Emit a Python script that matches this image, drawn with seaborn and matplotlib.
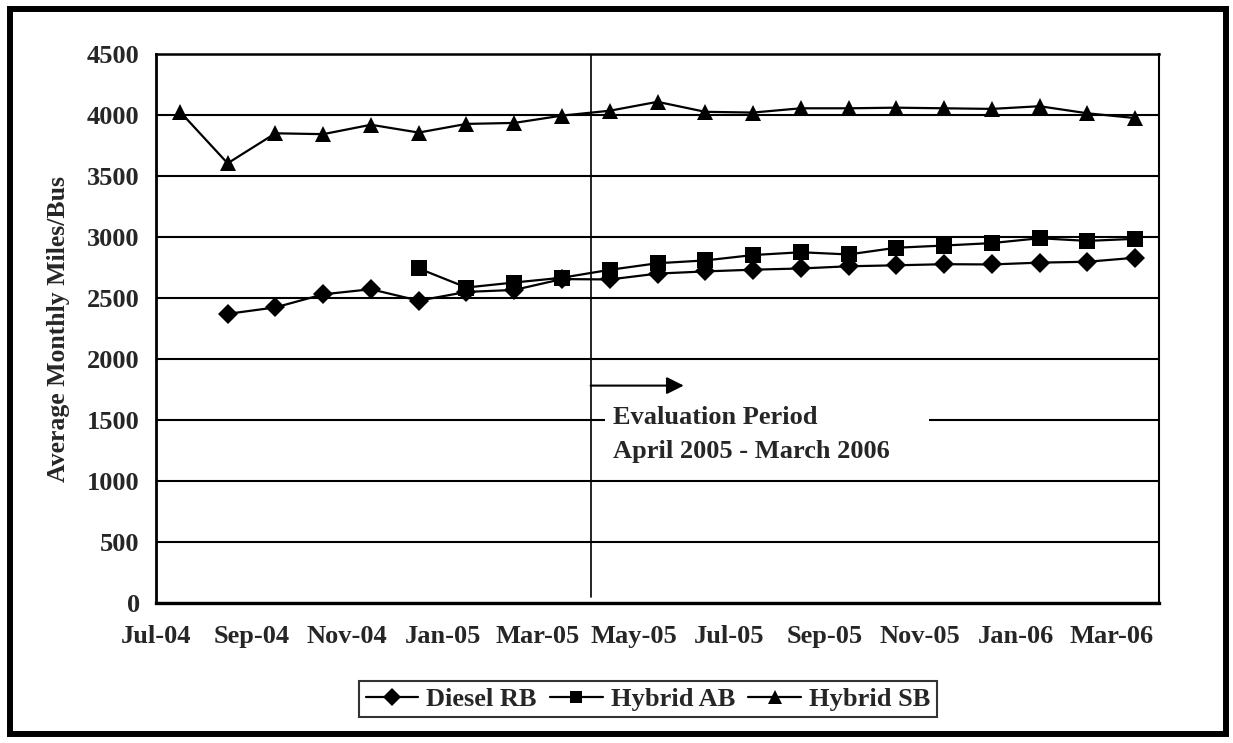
import numpy as np
import pandas as pd
import seaborn as sns
import matplotlib.pyplot as plt
from matplotlib.patches import Rectangle
from matplotlib.lines import Line2D

# Data: monthly average miles per bus, Jul-04 .. Mar-06
months = ['Jul-04', 'Aug-04', 'Sep-04', 'Oct-04', 'Nov-04', 'Dec-04',
          'Jan-05', 'Feb-05', 'Mar-05', 'Apr-05', 'May-05', 'Jun-05',
          'Jul-05', 'Aug-05', 'Sep-05', 'Oct-05', 'Nov-05', 'Dec-05',
          'Jan-06', 'Feb-06', 'Mar-06']

diesel_rb = [np.nan, 2370, 2423, 2530, 2572, 2478, 2550, 2566, 2655, 2652,
             2700, 2718, 2732, 2742, 2760, 2768, 2777, 2775, 2790, 2797, 2830]
hybrid_ab = [np.nan, np.nan, np.nan, np.nan, np.nan, 2742, 2586, 2627, 2666,
             2731, 2785, 2808, 2852, 2875, 2857, 2912, 2930, 2950, 2990, 2968, 2985]
hybrid_sb = [4028, 3604, 3850, 3843, 3920, 3856, 3927, 3935, 3995, 4035,
             4108, 4026, 4020, 4055, 4055, 4060, 4055, 4050, 4072, 4014, 3975]

tick_labels = months[::2]
series = {'Diesel RB': diesel_rb, 'Hybrid AB': hybrid_ab, 'Hybrid SB': hybrid_sb}
markers = {'Diesel RB': 'D', 'Hybrid AB': 's', 'Hybrid SB': '^'}
msizes = {'Diesel RB': 10.5, 'Hybrid AB': 11, 'Hybrid SB': 12}

rows = []
for name, vals in series.items():
    for i, v in enumerate(vals):
        if not np.isnan(v):
            rows.append([name, i + 0.5, v])
df = pd.DataFrame(rows, columns=['Series', 'Month', 'Miles'])

# evaluation period annotation
eval_start = 9.1
arrow_end = 11.05
arrow_y = 1782

sns.set_style('white')
plt.rcParams['font.family'] = ['Liberation Serif', 'DejaVu Serif']
plt.rcParams['font.weight'] = 'bold'
FS = 19

fig = plt.figure(figsize=(12.33, 7.43), dpi=100)
ax = fig.add_axes([156 / 1233, 1 - 603 / 743, (1159 - 156) / 1233, (603 - 54) / 743])

for name in series:
    sub = df[df['Series'] == name]
    sns.lineplot(data=sub, x='Month', y='Miles', ax=ax, color='black', lw=1.6,
                 marker=markers[name], markersize=msizes[name], markeredgewidth=0,
                 markerfacecolor='black', label=name, legend=False, zorder=4)

ax.set_xlim(0, len(months))
ax.set_ylim(0, 4500)
ax.set_xticks(np.arange(0, len(months), 2))
ax.set_xticklabels(tick_labels)
ax.set_yticks(np.arange(0, 4501, 500))
ax.set_yticklabels([str(v) for v in range(0, 4501, 500)])
ax.tick_params(axis='x', direction='out', length=7, width=1.5, pad=9, labelsize=FS, color='black')
ax.tick_params(axis='y', direction='inout', length=9.5, width=1.5, pad=7, labelsize=FS, color='black')
for lab in ax.get_xticklabels() + ax.get_yticklabels():
    lab.set_fontweight('bold')

ax.yaxis.grid(True, color='black', lw=1.5)
ax.xaxis.grid(False)
ax.set_axisbelow(True)
for side, lw in {'left': 2, 'bottom': 2.4, 'top': 1.8, 'right': 1.5}.items():
    ax.spines[side].set_color('black')
    ax.spines[side].set_linewidth(lw)

ax.set_xlabel('')
ax.set_ylabel('Average Monthly Miles/Bus', fontsize=18.5, fontweight='bold')
ax.yaxis.set_label_coords(-0.086, 0.5)

# evaluation period marker
ax.plot([eval_start, eval_start], [50, 4500], color='black', lw=1.2, zorder=3)
ax.annotate('', xy=(arrow_end, arrow_y), xytext=(eval_start, arrow_y),
            arrowprops=dict(arrowstyle='-|>', color='black', lw=1.5, mutation_scale=26,
                            shrinkA=0, shrinkB=0), zorder=3)
ax.add_patch(Rectangle((9.4, 1120), 6.79, 530, facecolor='white', edgecolor='none', zorder=2))
ax.text(9.57, 1519, 'Evaluation Period', fontsize=FS, fontweight='bold', va='center', ha='left', zorder=3)
ax.text(9.57, 1240, 'April 2005 - March 2006', fontsize=FS, fontweight='bold', va='center', ha='left', zorder=3)

handles = [Line2D([], [], color='black', lw=1.6, marker=markers[n], markersize=msizes[n] * 0.85,
                  markeredgewidth=0) for n in series]
leg = fig.legend(handles, list(series), loc='center', bbox_to_anchor=(648 / 1233, 1 - 699 / 743),
                 ncol=3, frameon=True, fancybox=False, edgecolor='black',
                 handlelength=2.0, handletextpad=0.3, columnspacing=0.5, borderpad=0.25,
                 prop={'weight': 'bold', 'size': FS})
leg.get_frame().set_linewidth(1.5)

# outer chart frame
fig.patches.append(Rectangle((10 / 1233, 9 / 743), 1216 / 1233, 725 / 743, transform=fig.transFigure,
                             fill=False, edgecolor='black', lw=4.3))

fig.savefig('out.png', dpi=100)
